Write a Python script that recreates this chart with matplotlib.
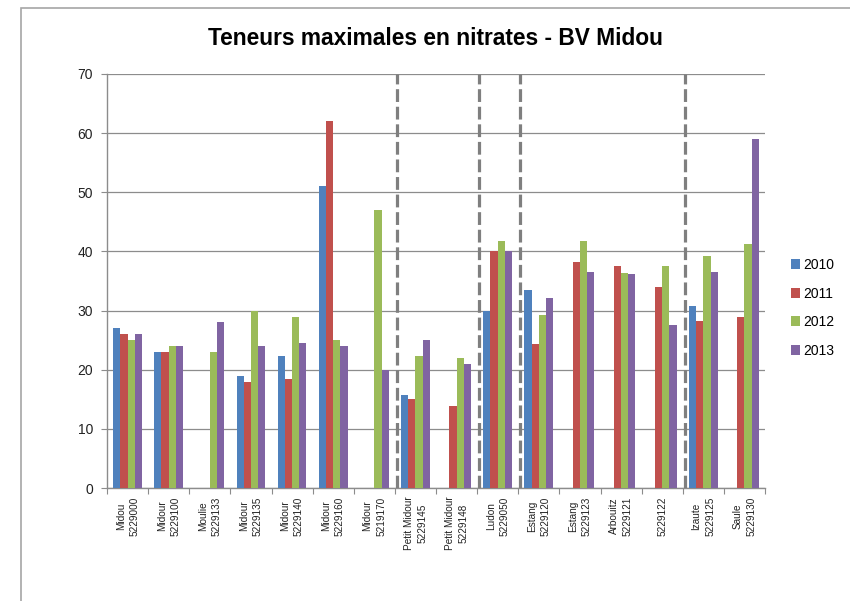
import numpy as np
import matplotlib
matplotlib.use("Agg")
import matplotlib.pyplot as plt
from matplotlib.patches import Rectangle

plt.rcParams['font.family'] = ['Liberation Sans', 'DejaVu Sans']

stations = ["Midou\n5229000", "Midour\n5229100", "Moulie\n5229133", "Midour\n5229135",
            "Midour\n5229140", "Midour\n5229160", "Midour\n5219170", "Petit Midour\n5229145",
            "Petit Midour\n5229148", "Ludon\n5229050", "Estang\n5229120", "Estang\n5229123",
            "Arbouitz\n5229121", "5229122", "Izaute\n5229125", "Saule\n5229130"]
years = ["2010", "2011", "2012", "2013"]
nan = np.nan
v2010 = [27, 23, nan, 19, 22.3, 51, nan, 15.8, nan, 30, 33.5, nan, nan, nan, 30.8, nan]
v2011 = [26, 23, nan, 18, 18.5, 62, nan, 15.1, 13.8, 40, 24.3, 38.2, 37.5, 34, 28.3, 28.9]
v2012 = [25, 24, 23, 30, 28.9, 25, 47, 22.3, 22, 41.8, 29.3, 41.8, 36.3, 37.5, 39.3, 41.2]
v2013 = [26, 24, 28, 24, 24.6, 24, 20, 25, 21, 40, 32.2, 36.5, 36.2, 27.5, 36.6, 59]
separators = [7, 9, 10, 14]   # dashed lines drawn before these groups

colors = ["#4F81BD", "#C0504D", "#9BBB59", "#8064A2"]
series = [v2010, v2011, v2012, v2013]

fig = plt.figure(figsize=(8.5, 6.01), dpi=100)
ax = fig.add_axes([107/850, 1-488/601, (765-107)/850, (488-74)/601])

# outer chart frame (cut by the image edge)
fig.patches.append(Rectangle((21/850, -0.2), 1.2, 1.2 - 7.5/601,
                             transform=fig.transFigure, fill=False,
                             edgecolor="#a6a6a6", lw=1.2))

x = np.arange(len(stations))
w = 0.175
for i, (vals, c, yr) in enumerate(zip(series, colors, years)):
    ax.bar(x + (i - 1.5) * w + 0.5, vals, width=w, color=c, label=yr, zorder=3)

for s in separators:
    ax.axvline(s + 0.05, color="#7f7f7f", lw=2.3, ls=(0, (4, 1.5)), zorder=4)

ax.set_xlim(0, len(stations))
ax.set_ylim(0, 70)
ax.set_yticks(range(0, 71, 10))
ax.yaxis.grid(True, color="#8c8c8c", lw=0.9, zorder=0)
ax.set_axisbelow(True)
for sp in ["top", "right"]:
    ax.spines[sp].set_visible(False)
for sp in ["left", "bottom"]:
    ax.spines[sp].set_color("#8c8c8c")
    ax.spines[sp].set_linewidth(1.0)

ax.set_xticks(np.arange(len(stations) + 1))
ax.set_xticklabels([])
ax.tick_params(axis="x", direction="out", length=4, color="#8c8c8c")
ax.tick_params(axis="y", direction="out", length=4, color="#8c8c8c",
               labelsize=10, pad=6, labelcolor="#222222")

for xi, lab in zip(x, stations):
    ax.text(xi + 0.5, -1.4, lab, rotation=90, ha="center", va="top",
            multialignment="center", fontsize=7.2, color="#222222",
            linespacing=1.45)

ax.set_title("Teneurs maximales en nitrates - BV Midou", fontsize=16.4,
             fontweight="bold", pad=21)

ax.legend(loc="center left", bbox_to_anchor=(1.02, 0.435), frameon=False,
          fontsize=10, handlelength=0.7, handleheight=0.7, handletextpad=0.2,
          labelspacing=1.05)

fig.savefig("out.png", dpi=100)
